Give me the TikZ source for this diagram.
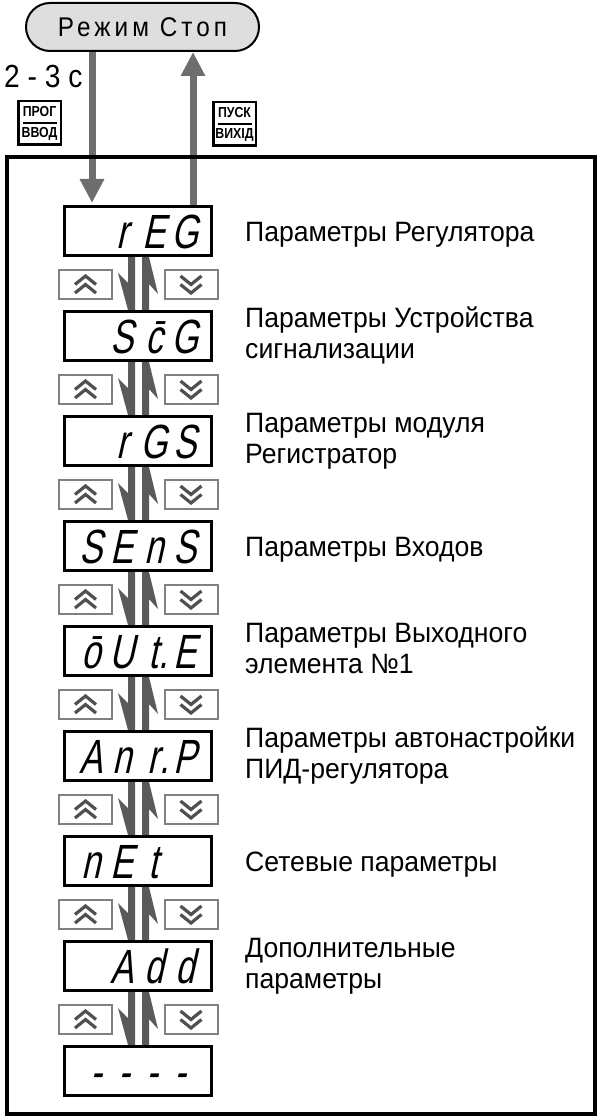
\documentclass[tikz,border=0pt]{standalone}
\usepackage{fontspec}
\setmainfont{Liberation Sans}
\newfontfamily\segfont[FakeSlant=0.22,FakeStretch=0.72]{Liberation Sans}
\newfontfamily\condfont[FakeStretch=0.88]{Liberation Sans}
\newfontfamily\btnfont[FakeStretch=0.85]{Liberation Sans}
\newfontfamily\labfont[FakeStretch=0.95]{Liberation Sans}
\newfontfamily\pillfont[LetterSpace=15,FakeStretch=0.9]{Liberation Sans}
\usetikzlibrary{arrows.meta,shapes.misc,backgrounds,calc}
\definecolor{arrowgray}{HTML}{6E6E6E}
\definecolor{bargray}{HTML}{5A5A5A}
\definecolor{btngray}{HTML}{808080}
\definecolor{chevgray}{HTML}{505050}
\definecolor{pillfill}{HTML}{DEDEDE}
\newcommand{\sgc}[1]{\makebox[31.5pt]{#1}}
\newcommand{\sgd}[1]{\makebox[28pt]{#1}}
\tikzset{
  disp/.style={draw=black, line width=3pt, minimum width=147pt, minimum height=49pt,
    inner sep=0pt, fill=white, text height=34.4pt, text depth=0pt,
    font=\segfont\fontsize{48}{48}\selectfont},
  keybtn/.style={draw=btngray, line width=2pt, minimum width=53pt, minimum height=29pt, inner sep=0pt},
  lab/.style={anchor=base west, align=left, inner sep=0pt, font=\labfont\fontsize{28}{31}\selectfont},
  chev/.style={draw=chevgray, line width=3.2pt},
  flow/.style={draw=arrowgray, line width=7pt, -{Triangle[width=23pt,length=24pt]}},
  barfill/.style={fill=bargray},
  topbtn/.style={draw=black, line width=2.5pt, minimum width=42.5pt, minimum height=43.5pt,
    inner sep=0pt, align=center, font=\btnfont\bfseries\fontsize{14.5}{21}\selectfont},
  pill/.style={rounded rectangle, draw=black, line width=2pt, fill=pillfill,
    minimum width=233pt, minimum height=48pt, inner sep=0pt,
    font=\pillfont\fontsize{27}{27}\selectfont},
}
\begin{document}
\begin{tikzpicture}[x=1pt,y=-1pt]
\useasboundingbox (0,0) rectangle (600,1118);
% outer frame
\draw[line width=4pt] (6.5,157) rectangle (595,1114);
% top part
\node[pill] (pill) at (142.5,27) {Режим Стоп};
\node[anchor=base west, inner sep=0pt, font=\condfont\fontsize{32}{32}\selectfont] (t23) at (4,88) {2 - 3 с};
\node[topbtn] (bprog) at (39.5,123) {ПРОГ\\ВВОД};
\node[topbtn] (bpusk) at (234.5,124) {ПУСК\\ВИХІД};
\draw[line width=1.3pt] ($(bprog.center)+(-17,0)$) -- ($(bprog.center)+(17,0)$);
\draw[line width=1.3pt] ($(bpusk.center)+(-17,0)$) -- ($(bpusk.center)+(17,0)$);
% display boxes
\node[disp] (d0) at (138,231) {\sgc{}\sgc{r}\sgc{E}\sgc{G}};
\node[disp] (d1) at (138,336) {\sgc{}\sgc{S}\sgc{\={c}}\sgc{G}};
\node[disp] (d2) at (138,441) {\sgc{}\sgc{r}\sgc{G}\sgc{S}};
\node[disp] (d3) at (138,546) {\sgc{S}\sgc{E}\sgc{n}\sgc{S}};
\node[disp] (d4) at (138,651) {\sgc{\={o}}\sgc{U}\sgc{t\rlap{.}}\sgc{E}};
\node[disp] (d5) at (138,756) {\sgc{A}\sgc{n}\sgc{r\rlap{.}}\sgc{P}};
\node[disp] (d6) at (138,861) {\sgc{n}\sgc{E}\sgc{t}\sgc{}};
\node[disp] (d7) at (138,966) {\sgc{}\sgc{A}\sgc{d}\sgc{d}};
\node[disp] (d8) at (138,1071) {\sgd{-}\sgd{-}\sgd{-}\sgd{-}};
% labels (base = baseline of last line)
\node[lab] (l0) at (245,241) {Параметры Регулятора};
\node[lab] (l1) at (245,358) {Параметры Устройства\\сигнализации};
\node[lab] (l2) at (245,463) {Параметры модуля\\Регистратор};
\node[lab] (l3) at (245,556) {Параметры Входов};
\node[lab] (l4) at (245,673) {Параметры Выходного\\элемента №1};
\node[lab] (l5) at (245,778) {Параметры автонастройки\\ПИД-регулятора};
\node[lab] (l6) at (245,871) {Сетевые параметры};
\node[lab] (l7) at (245,988) {Дополнительные\\параметры};
% buttons between boxes
\foreach \i in {0,...,7}{
  \node[keybtn] (u\i) at (85.5,{284.5+105*\i}) {};
  \node[keybtn] (w\i) at (191,{284.5+105*\i}) {};
  \draw[chev] ($(u\i)+(-10.5,0)$) -- ($(u\i)+(0,-8.5)$) -- ($(u\i)+(10.5,0)$);
  \draw[chev] ($(u\i)+(-10.5,8.5)$) -- ($(u\i)+(0,0)$) -- ($(u\i)+(10.5,8.5)$);
  \draw[chev] ($(w\i)+(-10.5,-8.5)$) -- ($(w\i)+(0,0)$) -- ($(w\i)+(10.5,-8.5)$);
  \draw[chev] ($(w\i)+(-10.5,0)$) -- ($(w\i)+(0,8.5)$) -- ($(w\i)+(10.5,0)$);
}
\coordinate (xin) at (92,0);
\coordinate (xout) at (193,0);
\begin{scope}[on background layer]
  \draw[flow, shorten >=2pt] (pill.south -| xin) -- (d0.north -| xin);
  \draw[flow] (d0.north -| xout) -- (pill.south -| xout);
  \foreach \i [evaluate=\i as \j using int(\i+1)] in {0,...,7}{
    \fill[barfill] ($(d\i.south)+(-10,0)$) -- ($(d\i.south)+(-3,0)$) -- ($(d\j.north)+(-3,0)$)
      -- ($(d\j.north)+(-10,0)$) -- ($(d\j.north)+(-20,-37)$) -- ($(d\j.north)+(-10,-27)$) -- cycle;
    \fill[barfill] ($(d\j.north)+(4,0)$) -- ($(d\i.south)+(4,0)$) -- ($(d\i.south)+(11,0)$)
      -- ($(d\i.south)+(20,37)$) -- ($(d\i.south)+(11,27)$) -- ($(d\j.north)+(11,0)$) -- cycle;
  }
\end{scope}
\end{tikzpicture}
\end{document}
